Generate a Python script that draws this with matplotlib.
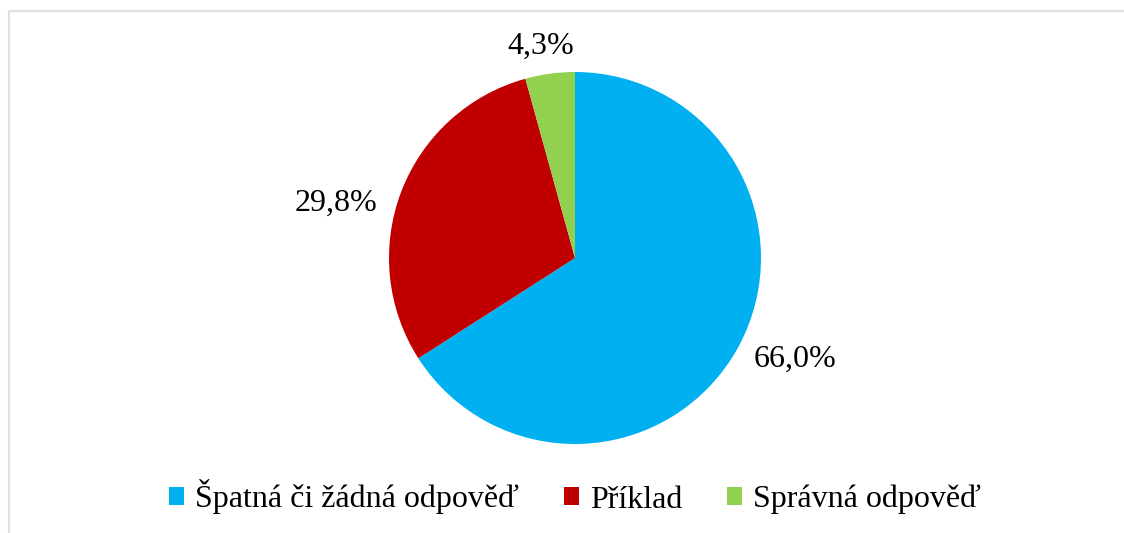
import matplotlib
matplotlib.use("Agg")
import matplotlib.pyplot as plt
from matplotlib.lines import Line2D
import numpy as np

categories = ["Špatná či žádná odpověď", "Příklad", "Správná odpověď"]
shares = [66.0, 29.8, 4.3]
colors = ["#00B0F0", "#C00000", "#92D050"]
# value label placement: radial distance (pie radii) and angle shift (deg)
label_dist = [1.30, 1.32, 1.15]
label_shift = [3.9, 8.2, 1.4]

plt.rcParams["font.family"] = ["Liberation Serif", "DejaVu Serif"]

W, H = 1124, 533
fig = plt.figure(figsize=(W / 100, H / 100), dpi=100)
ax = fig.add_axes([0, 0, 1, 1])

cx, cy, r = 575, 258, 186
wedges, _ = ax.pie(shares, colors=colors, startangle=90, counterclock=False,
                   wedgeprops=dict(linewidth=0))

for w, val, d, s in zip(wedges, shares, label_dist, label_shift):
    mid = np.radians((w.theta1 + w.theta2) / 2 + s)
    ax.text(d * np.cos(mid), d * np.sin(mid), f"{val:.1f}%".replace(".", ","),
            ha="center", va="center", fontsize=23)

ax.set_aspect("auto")
ax.set_xlim(-cx / r, (W - cx) / r)
ax.set_ylim((cy - H) / r, cy / r)
ax.axis("off")

fig.legend(wedges, categories, loc="center", bbox_to_anchor=(575 / W, 1 - 497 / H),
           ncol=3, frameon=False, fontsize=23, handlelength=0.47, handleheight=0.47,
           handletextpad=0.35, columnspacing=1.4)

# light chart-area border (top and left edges visible)
border = "#DDE2E8"
fig.add_artist(Line2D([8.5 / W, 1], [1 - 10.5 / H, 1 - 10.5 / H], color=border, lw=1.5))
fig.add_artist(Line2D([8.5 / W, 8.5 / W], [0, 1 - 10.5 / H], color=border, lw=1.5))

fig.savefig("out.png", dpi=100)
